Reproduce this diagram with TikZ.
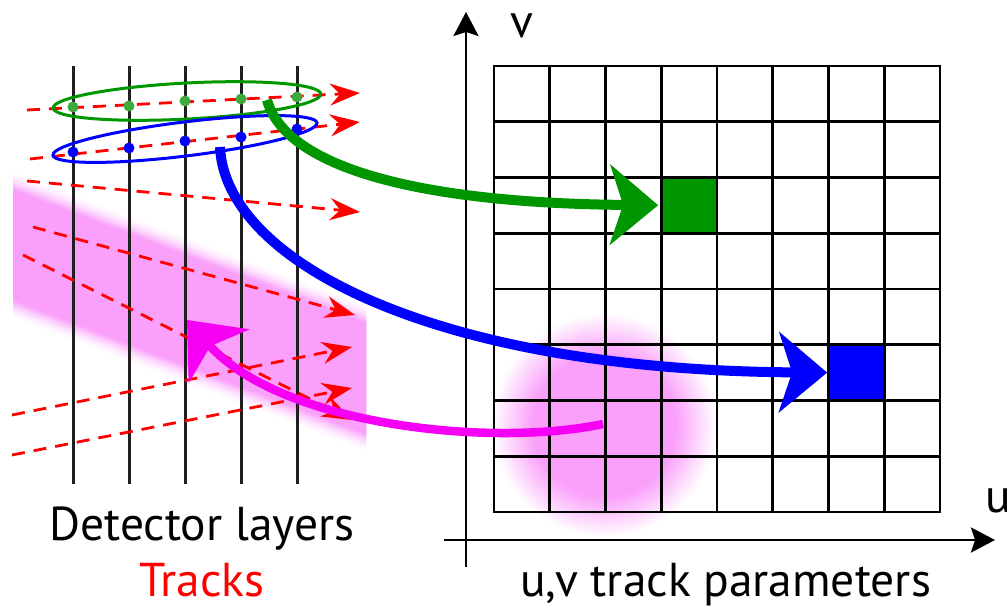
\documentclass[tikz,border=0pt]{standalone}
\usepackage{fontspec}
\setmainfont{PT Sans}
\usetikzlibrary{arrows.meta}
\definecolor{pinkc}{RGB}{250,160,250}
\definecolor{gline}{RGB}{0,150,0}
\definecolor{gdot}{RGB}{60,170,60}
\definecolor{mag}{RGB}{245,0,245}
\pgfdeclareradialshading{blobshade}{\pgfpoint{0bp}{0bp}}{color(0bp)=(pinkc); color(16bp)=(pinkc); color(25bp)=(white); color(50bp)=(white)}
\begin{document}
\begin{tikzpicture}[x=1pt,y=-1pt,
  layer/.style={line width=3pt, draw=black!88},
  track/.style={red, line width=2.8pt, dash pattern=on 13pt off 9pt,
    -{Stealth[length=30pt,width=22pt,inset=10pt]}},
  hit/.style={radius=5.5},
  ring/.style={line width=3pt},
  gridl/.style={line width=2.8pt, black, line cap=rect},
  cell/.style={minimum width=55.75pt, minimum height=55.75pt, inner sep=0pt, outer sep=0pt},
  bigarrow/.style={line width=10pt, -{Stealth[length=48pt,width=80pt,inset=13pt]}},
  axis/.style={line width=2.8pt, -{Stealth[length=24pt,width=25pt,inset=4pt]}},
  lbl/.style={font=\fontsize{47.5}{54}\selectfont, inner sep=0pt},
]
\useasboundingbox (0,0) rectangle (1007,607);

% soft magenta band behind the detector
\begin{scope}
  \clip (13,150) rectangle (366,470);
  \foreach \w/\c in {136/4, 132/10, 128/18, 124/28, 120/40, 116/54, 112/68, 109/82, 106/92, 103/100}
    \draw[line width=\w pt, pinkc!\c, line cap=butt] (-20,232.5) -- (400,391.2);
\end{scope}

% soft magenta blob in the parameter space
\shade[shading=blobshade] (604,425) circle[radius=112];

% detector layers
\foreach \x in {73,129,185,241,297}
  \draw[layer] (\x,66) -- (\x,484);

% tracks
\draw[track] (27,110) -- (360,93);
\draw[track] (30,159) -- (360,122);
\draw[track] (27,181) -- (360,212);
\draw[track] (33,227) -- (355,315);
\draw[track] (23,255) -- (352,420);
\draw[track] (12,415) -- (352,347);
\draw[track] (12,455) -- (352,388);

% hits
\foreach \x/\y in {73/107,129/106,185/101,241/99,297/97}
  \fill[gdot] (\x,\y) circle[hit];
\foreach \x/\y in {73/152,129/148,185/141,241/137,297/129}
  \fill[blue] (\x,\y) circle[hit];

% hit groupings
\draw[ring, gline, rotate around={3:(187,101)}] (187,101) ellipse [x radius=134, y radius=18];
\draw[ring, blue, rotate around={7:(185,139)}] (185,139) ellipse [x radius=133, y radius=17];

% filled cells
\node[cell, fill=gline] (gcell) at (689,205.25) {};
\node[cell, fill=blue] (bcell) at (857,372.6) {};

% grid
\foreach \i in {0,...,8} {
  \draw[gridl] ({494+55.75*\i},66) -- ({494+55.75*\i},512);
  \draw[gridl] (494,{66+55.75*\i}) -- (940,{66+55.75*\i});
}

% axes
\coordinate (vbot) at (466,567);
\coordinate (vtop) at (466,12);
\coordinate (hl) at (444,540);
\coordinate (hr) at (995,540);
\draw[axis] (vbot) -- (vtop);
\draw[axis] (hl) -- (hr);
\node[lbl] (vlab) at (522,26) {v};
\node[lbl] (ulab) at (998,501) {u};

% mapping arrows
\coordinate (gstart) at (267,100);
\coordinate (bstart) at (220,147);
\coordinate (mstart) at (603,424);
\coordinate (mend) at (187,320);
\draw[bigarrow, gline, shorten >=3pt] (gstart) .. controls (285,165) and (410,203) .. (gcell.west);
\draw[bigarrow, blue, shorten >=2pt] (bstart) .. controls (225,260) and (430,370) .. (bcell.west);
\draw[bigarrow, mag, line width=8.5pt] (mstart) .. controls (490,448) and (280,425) .. (mend);

% captions
\node[lbl, anchor=base] (det) at (202,540) {Detector layers};
\node[lbl, anchor=base, text=red] (trk) at (202,596) {Tracks};
\node[lbl, anchor=base] (par) at (725.5,596) {u,v track parameters};
\end{tikzpicture}
\end{document}
